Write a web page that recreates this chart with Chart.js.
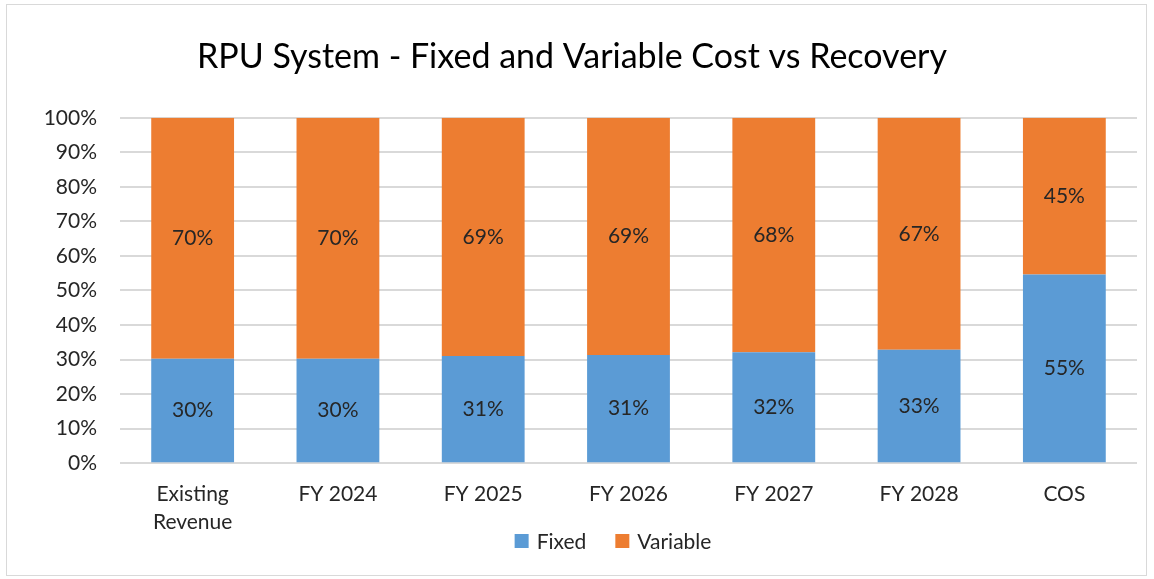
<!DOCTYPE html>
<html>
<head>
<meta charset="utf-8">
<script src="https://cdn.jsdelivr.net/npm/chart.js@4.4.1/dist/chart.umd.min.js"></script>
<style>
    html, body { margin: 0; padding: 0; background: #fff; }
    #wrap {
        position: absolute;
        left: 6px; top: 4px;
        width: 1141px; height: 572px;
        border: 1px solid #d9d9d9;
        box-sizing: border-box;
    }
    canvas { display: block; }
</style>
</head>
<body>
<div id="wrap"><canvas id="costChart"></canvas></div>
<script>
// Chart data
const categories = [['Existing', 'Revenue'], 'FY 2024', 'FY 2025', 'FY 2026', 'FY 2027', 'FY 2028', 'COS'];
const fixedShare = [30.2, 30.2, 31.0, 31.3, 32.1, 32.8, 54.6];
const variableShare = [69.8, 69.8, 69.0, 68.7, 67.9, 67.2, 45.4];
const yTicks = [0, 10, 20, 30, 40, 50, 60, 70, 80, 90, 100];

const fontFamily = 'Lato, "Open Sans", sans-serif';

// Draws the rounded percentage in the middle of each bar segment
const barLabels = {
    id: 'barLabels',
    afterDatasetsDraw(chart) {
        const ctx = chart.ctx;
        ctx.save();
        ctx.font = '21px ' + fontFamily;
        ctx.fillStyle = '#262626';
        ctx.textAlign = 'center';
        ctx.textBaseline = 'middle';
        chart.data.datasets.forEach((ds, i) => {
            const meta = chart.getDatasetMeta(i);
            meta.data.forEach((bar, j) => {
                const y = (bar.y + bar.base) / 2;
                ctx.fillText(Math.round(ds.data[j]) + '%', bar.x, y);
            });
        });
        ctx.restore();
    }
};

// Legend drawn by hand so it can sit close under the two-line category label
const bottomLegend = {
    id: 'bottomLegend',
    afterDraw(chart) {
        const ctx = chart.ctx;
        const box = 14, gap = 8, itemGap = 29;
        const centerX = 606, centerY = 536;
        ctx.save();
        ctx.font = '21px ' + fontFamily;
        ctx.textBaseline = 'middle';
        const items = chart.data.datasets.map(ds => ({
            text: ds.label,
            color: ds.backgroundColor,
            width: box + gap + ctx.measureText(ds.label).width
        }));
        const total = items.reduce((s, it) => s + it.width, 0) + itemGap * (items.length - 1);
        let x = centerX - total / 2;
        items.forEach(it => {
            ctx.fillStyle = it.color;
            ctx.fillRect(x, centerY - box / 2, box, box);
            ctx.fillStyle = '#262626';
            ctx.fillText(it.text, x + box + gap, centerY + 1);
            x += it.width + itemGap;
        });
        ctx.restore();
    }
};

document.addEventListener('DOMContentLoaded', function() {
    const ctx = document.getElementById('costChart');
    new Chart(ctx, {
        type: 'bar',
        data: {
            labels: categories,
            datasets: [
                {
                    label: 'Fixed',
                    data: fixedShare,
                    backgroundColor: '#5b9bd5',
                    barPercentage: 0.57,
                    categoryPercentage: 1
                },
                {
                    label: 'Variable',
                    data: variableShare,
                    backgroundColor: '#ed7d31',
                    barPercentage: 0.57,
                    categoryPercentage: 1
                }
            ]
        },
        options: {
            responsive: true,
            maintainAspectRatio: false,
            animation: false,
            layout: { padding: { top: 0, right: 9, bottom: 30, left: 0 } },
            plugins: {
                title: {
                    display: true,
                    text: 'RPU System - Fixed and Variable Cost vs Recovery',
                    font: { family: fontFamily, size: 34, weight: 'normal', lineHeight: 1.2 },
                    color: '#000',
                    padding: { top: 32, bottom: 40 }
                },
                legend: { display: false },
                tooltip: { enabled: false }
            },
            scales: {
                x: {
                    stacked: true,
                    grid: { display: false },
                    border: { display: false },
                    ticks: {
                        font: { family: fontFamily, size: 21, lineHeight: 1.33 },
                        color: '#262626',
                        padding: 9,
                        maxRotation: 0
                    }
                },
                y: {
                    stacked: true,
                    min: 0,
                    max: 100,
                    afterBuildTicks: function(scale) {
                        scale.ticks = yTicks.map(v => ({ value: v }));
                    },
                    afterFit: function(scale) {
                        scale.width = 113;
                    },
                    grid: { color: '#d9d9d9', lineWidth: 2, drawTicks: false },
                    border: { display: false },
                    ticks: {
                        font: { family: fontFamily, size: 21 },
                        color: '#262626',
                        padding: 23,
                        callback: v => v + '%'
                    }
                }
            }
        },
        plugins: [barLabels, bottomLegend]
    });
});
</script>
</body>
</html>
